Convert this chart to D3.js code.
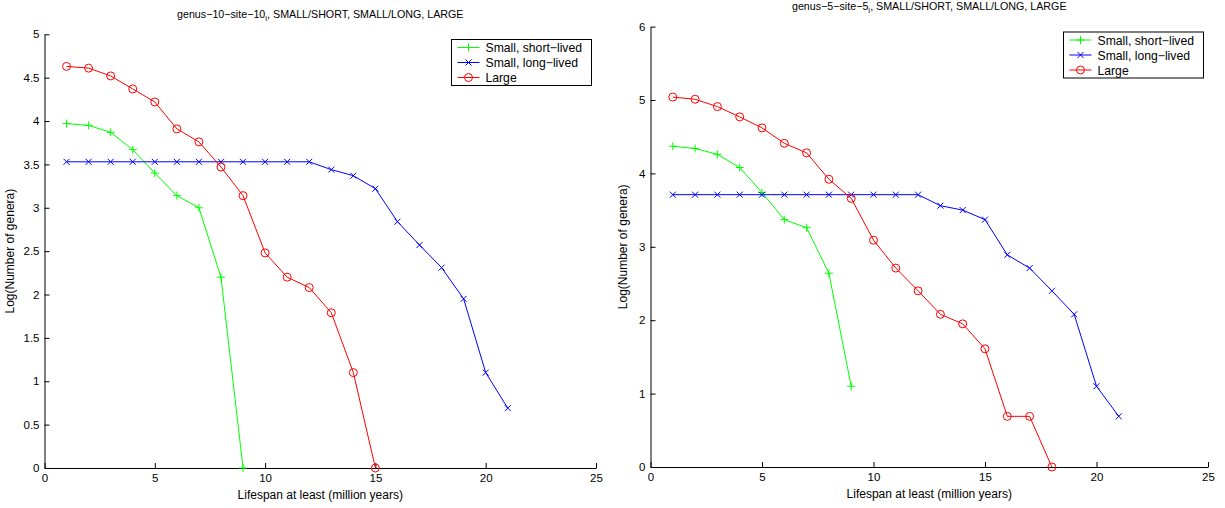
<!DOCTYPE html>
<html>
<head>
<meta charset="utf-8">
<script src="https://cdn.jsdelivr.net/npm/d3@7"></script>
<style>
  html, body { margin: 0; padding: 0; background: #fff; }
  svg { display: block; font-family: "Liberation Sans", Arial, Helvetica, sans-serif; }
</style>
</head>
<body>
<svg id="chart" width="1225" height="508"></svg>
<script>
// Lifespan (million years) for each series
const lifespanShort = [1, 2, 3, 4, 5, 6, 7, 8, 9];
const lifespanLong = [1, 2, 3, 4, 5, 6, 7, 8, 9, 10, 11, 12, 13, 14, 15, 16, 17, 18, 19, 20, 21];
const lifespanLarge10 = [1, 2, 3, 4, 5, 6, 7, 8, 9, 10, 11, 12, 13, 14, 15];
const lifespanLarge5 = [1, 2, 3, 4, 5, 6, 7, 8, 9, 10, 11, 12, 13, 14, 15, 16, 17, 18];

// genus-10-site-10 panel: log(number of genera)
const g10Short = [3.97, 3.95, 3.87, 3.67, 3.40, 3.14, 3.00, 2.20, 0];
const g10Long = [3.53, 3.53, 3.53, 3.53, 3.53, 3.53, 3.53, 3.53, 3.53, 3.53, 3.53, 3.53, 3.44, 3.37, 3.22, 2.84, 2.57, 2.31, 1.95, 1.10, 0.69];
const g10Large = [4.63, 4.61, 4.52, 4.37, 4.22, 3.91, 3.76, 3.47, 3.14, 2.48, 2.20, 2.08, 1.79, 1.10, 0];

// genus-5-site-5 panel: log(number of genera)
const g5Short = [4.37, 4.34, 4.26, 4.08, 3.74, 3.37, 3.26, 2.64, 1.10];
const g5Long = [3.71, 3.71, 3.71, 3.71, 3.71, 3.71, 3.71, 3.71, 3.71, 3.71, 3.71, 3.71, 3.56, 3.50, 3.37, 2.89, 2.71, 2.40, 2.08, 1.10, 0.69];
const g5Large = [5.04, 5.01, 4.91, 4.77, 4.62, 4.41, 4.28, 3.92, 3.66, 3.09, 2.71, 2.40, 2.08, 1.95, 1.61, 0.69, 0.69, 0];

const xTicks = [0, 5, 10, 15, 20, 25];
const yTicks10 = [0, 0.5, 1, 1.5, 2, 2.5, 3, 3.5, 4, 4.5, 5];
const yTicks5 = [0, 1, 2, 3, 4, 5, 6];

const seriesNames = ["Small, short\u2212lived", "Small, long\u2212lived", "Large"];
const seriesColors = ["#00ff00", "#0000ff", "#ff0000"];
const seriesMarkers = ["plus", "cross", "circle"];

const svg = d3.select("#chart");

function drawMarker(g, type, color) {
  if (type === "plus") {
    g.append("path").attr("d", "M-4,0H4M0,-4V4")
      .attr("stroke", color).attr("stroke-width", 1).attr("fill", "none");
  } else if (type === "cross") {
    g.append("path").attr("d", "M-3,-3L3,3M-3,3L3,-3")
      .attr("stroke", color).attr("stroke-width", 1).attr("fill", "none");
  } else {
    g.append("circle").attr("r", 4)
      .attr("stroke", color).attr("stroke-width", 1).attr("fill", "none");
  }
}

function panel(cfg) {
  const x = d3.scaleLinear().domain([0, 25]).range([cfg.left, cfg.right]);
  const y = d3.scaleLinear().domain([0, cfg.yMax]).range([cfg.bottom, cfg.top]);
  const g = svg.append("g");

  // axes, ticks pointing inward
  const xAxis = d3.axisBottom(x).tickValues(xTicks).tickSizeInner(-5).tickSizeOuter(0)
    .tickPadding(6).tickFormat(d3.format("d"));
  const gx = g.append("g").attr("transform", `translate(0,${cfg.bottom})`).call(xAxis);
  const yAxis = d3.axisLeft(y).tickValues(cfg.yTicks).tickSizeInner(-5).tickSizeOuter(0)
    .tickPadding(5).tickFormat(d => String(d));
  const gy = g.append("g").attr("transform", `translate(${cfg.left},0)`).call(yAxis);
  [gx, gy].forEach(a => {
    a.select(".domain").attr("stroke", "#000").attr("stroke-width", 1);
    a.selectAll(".tick line").attr("stroke", "#000");
    a.selectAll(".tick text").attr("fill", "#000").attr("font-size", 11.5);
  });

  // series
  const sets = [
    [lifespanShort, cfg.short],
    [lifespanLong, cfg.long],
    [cfg.largeX, cfg.large]
  ];
  sets.forEach(([xs, ys], i) => {
    const pts = xs.map((d, j) => [d, ys[j]]);
    g.append("path").datum(pts)
      .attr("d", d3.line().x(d => x(d[0])).y(d => y(d[1])))
      .attr("fill", "none").attr("stroke", seriesColors[i]).attr("stroke-width", 1);
    pts.forEach(p => {
      const m = g.append("g").attr("transform", `translate(${x(p[0])},${y(p[1])})`);
      drawMarker(m, seriesMarkers[i], seriesColors[i]);
    });
  });

  // title with subscript
  const t = g.append("text").attr("x", (cfg.left + cfg.right) / 2).attr("y", cfg.titleY)
    .attr("text-anchor", "middle").attr("font-size", 10.7).attr("fill", "#000");
  t.append("tspan").text(cfg.titleA);
  t.append("tspan").attr("dy", 3).attr("font-size", 8).text("i");
  t.append("tspan").attr("dy", -3).text(", SMALL/SHORT, SMALL/LONG, LARGE");

  // axis labels
  g.append("text").attr("x", (cfg.left + cfg.right) / 2).attr("y", cfg.bottom + 31)
    .attr("text-anchor", "middle").attr("font-size", 12).attr("fill", "#000")
    .text("Lifespan at least (million years)");
  g.append("text")
    .attr("transform", `translate(${cfg.labelX},${(cfg.top + cfg.bottom) / 2}) rotate(-90)`)
    .attr("text-anchor", "middle").attr("font-size", 12).attr("fill", "#000")
    .text("Log(Number of genera)");

  // legend
  const lg = g.append("g").attr("transform", `translate(${cfg.legX},${cfg.legY})`);
  lg.append("rect").attr("x", 0).attr("y", 0).attr("width", 140).attr("height", 46)
    .attr("fill", "#fff").attr("stroke", "#000").attr("stroke-width", 1);
  seriesNames.forEach((name, i) => {
    const yy = 8 + i * 15;
    lg.append("line").attr("x1", 6).attr("x2", 28).attr("y1", yy).attr("y2", yy)
      .attr("stroke", seriesColors[i]).attr("stroke-width", 1);
    const m = lg.append("g").attr("transform", `translate(17,${yy})`);
    drawMarker(m, seriesMarkers[i], seriesColors[i]);
    lg.append("text").attr("x", 34).attr("y", yy + 4.5).attr("font-size", 12.2)
      .attr("fill", "#000").text(name);
  });
}

panel({
  left: 44.5, right: 596, top: 34.3, bottom: 468, yMax: 5, yTicks: yTicks10,
  short: g10Short, long: g10Long, large: g10Large, largeX: lifespanLarge10,
  titleA: "genus\u221210\u2212site\u221210", titleY: 18, labelX: 14,
  legX: 451.5, legY: 39.5
});

panel({
  left: 650.5, right: 1208, top: 26.6, bottom: 467, yMax: 6, yTicks: yTicks5,
  short: g5Short, long: g5Long, large: g5Large, largeX: lifespanLarge5,
  titleA: "genus\u22125\u2212site\u22125", titleY: 10, labelX: 627,
  legX: 1063.5, legY: 32
});
</script>
</body>
</html>
